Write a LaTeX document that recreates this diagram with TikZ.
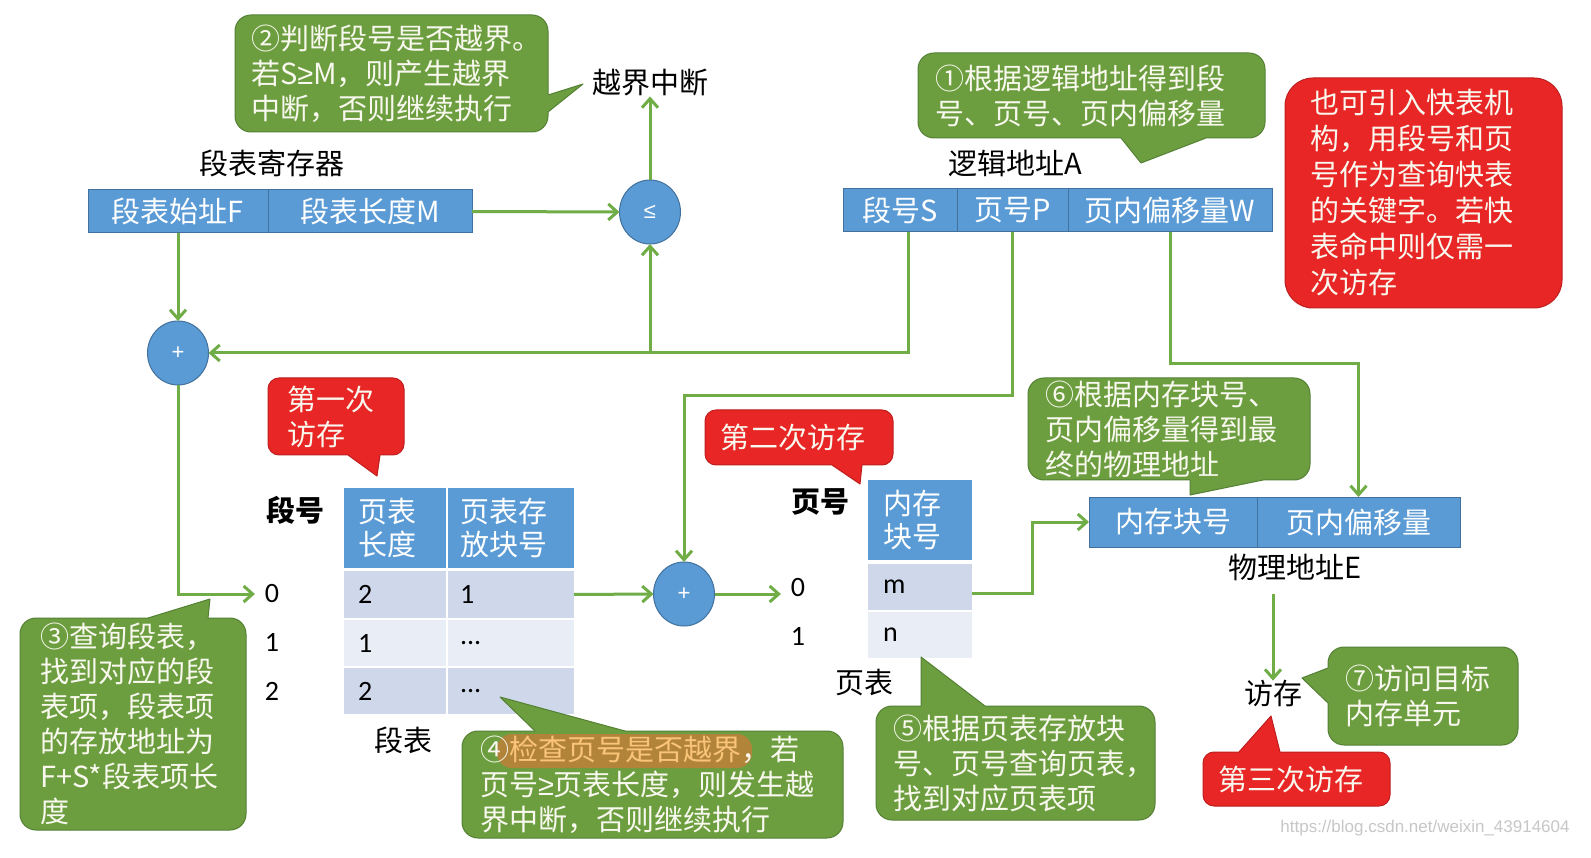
\documentclass[tikz,border=0pt]{standalone}
\usepackage{fontspec}
\setmainfont{Noto Sans CJK SC}
\newfontfamily\latf{Carlito}
\newfontfamily\wmf{Liberation Sans}
\usetikzlibrary{arrows.meta,calc,shapes.geometric}
\definecolor{gfill}{RGB}{108,158,64}
\definecolor{gline}{RGB}{84,128,52}
\definecolor{rfill}{RGB}{233,38,38}
\definecolor{rline}{RGB}{190,30,30}
\definecolor{bfill}{RGB}{91,155,213}
\definecolor{bline}{RGB}{65,113,156}
\definecolor{agreen}{RGB}{112,173,71}
\definecolor{rowd}{RGB}{207,216,234}
\definecolor{rowl}{RGB}{233,237,246}
\definecolor{btext}{RGB}{248,248,238}
\definecolor{hlbg}{RGB}{178,132,58}
\definecolor{hltx}{RGB}{250,196,120}
\newcommand\ptr[6]{%
  \fill[#1] (#3) -- (#4) -- (#5) -- ($(#5)+(#6)$) -- ($(#3)+(#6)$) -- cycle;
  \draw[#2, line width=1pt, line join=round] (#3) -- (#4) -- (#5);}
\newcommand\gesym{{\wmf ≥}}
\begin{document}
\begin{tikzpicture}[x=1pt,y=-1pt, font=\fontsize{29}{35}\selectfont,
 every node/.style={inner sep=0pt, outer sep=0pt},
 arr/.style={draw=agreen, line width=3pt, -{Straight Barb[length=9pt,width=16pt]}},
 blk/.style={draw=bline, line width=1pt, fill=bfill, text=white, anchor=north west, inner sep=0pt},
 cel/.style={fill=#1, anchor=north west, align=left, inner ysep=0pt},
 op/.style={ellipse, draw=bline, line width=1pt, fill=bfill, text=white, minimum width=61pt, minimum height=64pt, font={\fontsize{22}{22}\selectfont\wmf}},
 lbl/.style={text=black},
 num/.style={text=black, font={\fontsize{28}{30}\selectfont\latf}},
 bold/.style={text=black, font={\fontsize{29}{35}\selectfont\bfseries}},
 gb/.style={draw=gline, line width=1pt, fill=gfill, text=btext, rounded corners=16pt, anchor=north west, align=left, inner ysep=0pt},
 rb/.style={draw=rline, line width=1pt, fill=rfill, text=btext, rounded corners=11pt, anchor=north west, align=left, inner ysep=0pt},
]
\useasboundingbox (0,0) rectangle (1591,858);
\fill[white] (0,0) rectangle (1591,858);

% segment table register
\node[blk, minimum width=180pt, minimum height=43pt] (segF) at (88,190) {段表始址F};
\node[blk, minimum width=204pt, minimum height=43pt] (segM) at (268,190) {段表长度M};
\node[lbl] (segreg) at (272,163) {段表寄存器};
\node[op] (le) at (650,212) {≤};
\node[lbl] (ovf) at (650,83) {越界中断};

% logical address
\node[blk, minimum width=114pt, minimum height=43pt] (laS) at (843,189) {段号S};
\node[blk, minimum width=111pt, minimum height=43pt] (laP) at (957,189) {页号P};
\node[blk, minimum width=204pt, minimum height=43pt] (laW) at (1068,189) {页内偏移量W};
\node[lbl] (laA) at (1015,163) {逻辑地址A};

% adders
\node[op] (plus1) at (178,353) {+};
\node[op] (plus2) at (684,594) {+};

% segment table
\node[bold] (segno) at (295,510) {段号};
\node[cel=bfill, text=white, minimum height=80pt, text width=74pt, inner xsep=14pt, font=\fontsize{29}{33}\selectfont] (h1) at (344,488) {页表\\长度};
\node[cel=bfill, text=white, minimum height=80pt, text width=102pt, inner xsep=12pt, font=\fontsize{29}{33}\selectfont] (h2) at (448,488) {页表存\\放块号};
\node[cel=rowd, num, minimum height=47pt, text width=74pt, inner xsep=14pt] (r0a) at (344,571) {2};
\node[cel=rowd, num, minimum height=47pt, text width=102pt, inner xsep=12pt] (r0b) at (448,571) {1};
\node[cel=rowl, num, minimum height=46pt, text width=74pt, inner xsep=14pt] (r1a) at (344,620) {1};
\node[cel=rowl, num, minimum height=46pt, text width=102pt, inner xsep=12pt] (r1b) at (448,620) {...};
\node[cel=rowd, num, minimum height=46pt, text width=74pt, inner xsep=14pt] (r2a) at (344,668) {2};
\node[cel=rowd, num, minimum height=46pt, text width=102pt, inner xsep=12pt] (r2b) at (448,668) {...};
\node[num] (idx0) at (272,594) {0};
\node[num] (idx1) at (272,642) {1};
\node[num] (idx2) at (272,691) {2};
\node[lbl] (segtab) at (403,740) {段表};

% page table
\node[bold] (pgno) at (820,502) {页号};
\node[cel=bfill, text=white, minimum height=80pt, text width=74pt, inner xsep=15pt, font=\fontsize{29}{33}\selectfont] (ph) at (868,480) {内存\\块号};
\node[cel=rowd, num, minimum height=46pt, text width=74pt, inner xsep=15pt] (pm) at (868,564) {m};
\node[cel=rowl, num, minimum height=46pt, text width=74pt, inner xsep=15pt] (pn) at (868,612) {n};
\node[num] (pidx0) at (798,588) {0};
\node[num] (pidx1) at (798,636) {1};
\node[lbl] (ptab) at (864,683) {页表};

% physical address
\node[blk, minimum width=168pt, minimum height=50pt] (paBlk) at (1089,497) {内存块号};
\node[blk, minimum width=203pt, minimum height=50pt] (paOff) at (1257,497) {页内偏移量};
\node[lbl] (paE) at (1295,567) {物理地址E};
\node[lbl] (fc) at (1273,694) {访存};

% connectors
\draw[arr] (segM.east) -- (le.west);
\draw[arr] (le.north) -- (ovf.south);
\draw[arr] (segF.south) -- (plus1.north);
\coordinate (j1) at (650,353);
\draw[arr] ([xshift=8pt]laS.south) |- (plus1.east);
\draw[arr] (j1) -- (le.south);
\draw[arr] (plus1.south) |- ([xshift=-10pt]idx0.west);
\coordinate (k1) at (684,396);
\draw[arr] (laP.south) |- (k1) -- (plus2.north);
\draw[arr] (r0b.east) -- (plus2.west);
\draw[arr] (plus2.east) -- ([xshift=-10pt]pidx0.west |- plus2.east);
\draw[arr] (laW.south) -- ++(0,132) -| (paOff.north);
\draw[arr] ([yshift=-6pt]pm.east) -- ++(60,0) |- (paBlk.west);
\draw[arr] ([yshift=-14pt]paE.south -| fc.north) -- (fc.north);

% bubbles
\node[gb, minimum height=117pt, text width=281pt, inner xsep=16pt] (b2) at (235,15) {②判断段号是否越界。\\若S\gesym M，则产生越界\\中断，否则继续执行};
\ptr{gfill}{gline}{548,95}{583,84}{548,112}{-4,0}

\node[gb, minimum height=85pt, text width=313pt, inner xsep=17pt] (b1) at (918,53) {①根据逻辑地址得到段\\号、页号、页内偏移量};
\ptr{gfill}{gline}{1121,138}{1141,163}{1206,138}{0,-4}

\node[rb, rounded corners=28pt, minimum height=230pt, text width=227pt, inner xsep=25pt, font=\fontsize{29}{36}\selectfont] (note) at (1285,78) {也可引入快表机\\构，用段号和页\\号作为查询快表\\的关键字。若快\\表命中则仅需一\\次访存};

\node[gb, minimum height=212pt, text width=186pt, inner xsep=20pt] (b3) at (20,618) {③查询段表，\\找到对应的段\\表项，段表项\\的存放地址为\\F+S*段表项长\\度};
\ptr{gfill}{gline}{148,618}{210,599}{208,618}{0,4}

\node[gb, minimum height=107pt, minimum width=381pt] (b4) at (462,731) {};
\ptr{gfill}{gline}{535,731}{500,697}{625,731}{0,4}
\fill[hlbg, rounded corners=15pt] (497,734) rectangle (752,768);
\node[text=btext, anchor=north west, text width=345pt, inner xsep=18pt, minimum height=107pt, align=left] (t4) at (462,731) {④{\color{hltx}检查页号是否越界}，若\\页号\gesym 页表长度，则发生越\\界中断，否则继续执行};

\node[gb, minimum height=114pt, text width=245pt, inner xsep=17pt] (b5) at (876,706) {⑤根据页表存放块\\号、页号查询页表，\\找到对应页表项};
\ptr{gfill}{gline}{921,706}{921,657}{985,706}{0,4}

\node[gb, minimum height=102pt, text width=248pt, inner xsep=17pt] (b6) at (1028,378) {⑥根据内存块号、\\页内偏移量得到最\\终的物理地址};
\ptr{gfill}{gline}{1190,480}{1190,495}{1263,480}{0,-4}

\node[gb, minimum height=98pt, text width=156pt, inner xsep=17pt] (b7) at (1328,647) {⑦访问目标\\内存单元};
\ptr{gfill}{gline}{1328,668}{1302,678}{1328,703}{4,0}

\node[rb, minimum height=77pt, text width=98pt, inner xsep=19pt] (red1) at (268,378) {第一次\\访存};
\ptr{rfill}{rline}{348,455}{377,476}{380,455}{0,-4}

\node[rb, minimum height=55pt, text width=158pt, inner xsep=15pt] (red2) at (705,410) {第二次访存};
\ptr{rfill}{rline}{832,465}{860,484}{862,465}{0,-4}

\node[rb, minimum height=54pt, text width=157pt, inner xsep=15pt] (red3) at (1203,752) {第三次访存};
\ptr{rfill}{rline}{1239,752}{1271,716}{1280,752}{0,4}

\node[text=black!22, font={\fontsize{17}{17}\selectfont\wmf}] (wm) at (1425,828) {https://blog.csdn.net/weixin\_43914604};
\end{tikzpicture}
\end{document}
